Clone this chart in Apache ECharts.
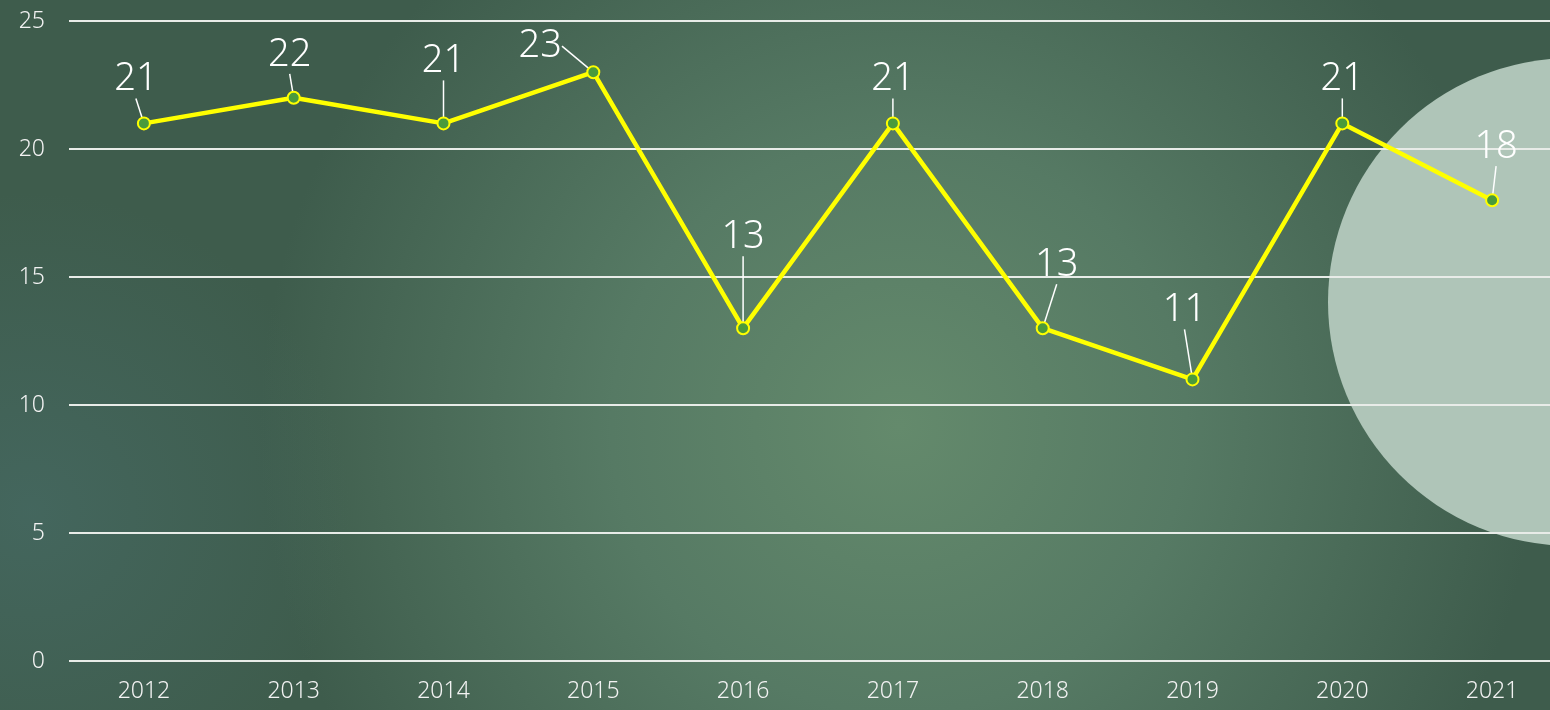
<!DOCTYPE html>
<html><head><meta charset="utf-8">
<script src="https://cdn.jsdelivr.net/npm/echarts@6/dist/echarts.min.js"></script>
<style>html,body{margin:0;padding:0;background:#4a6a58;}#c{width:1550px;height:710px;}</style>
</head><body><div id="c"></div>
<script>
const years = ['2012','2013','2014','2015','2016','2017','2018','2019','2020','2021'];
const values = [21, 22, 21, 23, 13, 21, 13, 11, 21, 18];
const yTicks = [0, 5, 10, 15, 20, 25];

// label offsets (styling only): [dx, dy] of label centre from point
const labelOffsets = [[-8,-44],[-4,-43],[0,-62],[-53,-26],[0,-91],[0,-44],[14,-63],[-8,-69],[0,-44],[4,-53]];
// label line end offsets from point (styling only)
const lineEnds = [[-6,-22],[-3,-20],[0,-36],null,[0,-66],[0,-20],[12,-38],[-13,-42],[0,-20],[3,-30]];

const chart = echarts.init(document.getElementById('c'));
const FONT = 'Noto Sans';
chart.setOption({
  backgroundColor: {
    type: 'radial', x: 0.58, y: 0.6, r: 0.9,
    colorStops: [
      {offset: 0, color: '#648a6c'},
      {offset: 0.45, color: '#567a64'},
      {offset: 1, color: '#3e5c4c'}
    ]
  },
  graphic: [{
    type: 'rect', z: -20, silent: true,
    shape: {x: 0, y: 0, width: 1550, height: 710},
    style: {fill: {type: 'radial', x: 0.02, y: 0.72, r: 0.45, colorStops: [
      {offset: 0, color: 'rgba(75,115,115,0.45)'},
      {offset: 1, color: 'rgba(75,115,115,0)'}
    ]}}
  }, {
    type: 'circle', z: -10, silent: true,
    shape: {cx: 1572, cy: 302, r: 244},
    style: {fill: '#afc5b8'}
  }],
  grid: {left: 69, top: 21, right: -17, bottom: 49, outerBoundsMode: 'none', containLabel: false},
  xAxis: {
    type: 'category', data: years, boundaryGap: true,
    axisLine: {show: false}, axisTick: {show: false},
    axisLabel: {color: '#f2f2f2', fontSize: 23, fontFamily: FONT, fontWeight: 300, margin: 19},
    splitLine: {show: false}
  },
  yAxis: {
    type: 'value', min: yTicks[0], max: yTicks[yTicks.length-1], interval: 5,
    axisLine: {show: false}, axisTick: {show: false},
    axisLabel: {color: '#f2f2f2', fontSize: 23, fontFamily: FONT, fontWeight: 300, margin: 24},
    splitLine: {lineStyle: {color: '#e8ece8', width: 2}}
  },
  series: [{
    type: 'line', data: values,
    lineStyle: {color: '#ffff00', width: 4.5},
    symbol: 'circle', symbolSize: 12,
    itemStyle: {color: '#4a9a3c', borderColor: '#ffff00', borderWidth: 2},
    label: {show: true, position: 'top', color: '#ffffff', fontSize: 38, fontFamily: FONT, fontWeight: 300},
    labelLine: {show: true, lineStyle: {color: '#ffffff', width: 1.5}},
    labelLayout: function (p) {
      const o = labelOffsets[p.dataIndex];
      const cx = p.rect.x + p.rect.width / 2;
      const cy = p.rect.y + p.rect.height / 2;
      const lx = cx + o[0], ly = cy + o[1];
      let pts;
      const e = lineEnds[p.dataIndex];
      if (!e) {
        pts = [[cx - 2, cy - 3], [cx - 15, cy - 28], [cx - 23, cy - 28]];
      } else {
        pts = [[cx, cy - 3], [cx + e[0], cy + e[1]], [cx + e[0], cy + e[1]]];
      }
      return {x: lx, y: ly, align: 'center', verticalAlign: 'middle', labelLinePoints: pts};
    }
  }]
});
</script></body></html>
